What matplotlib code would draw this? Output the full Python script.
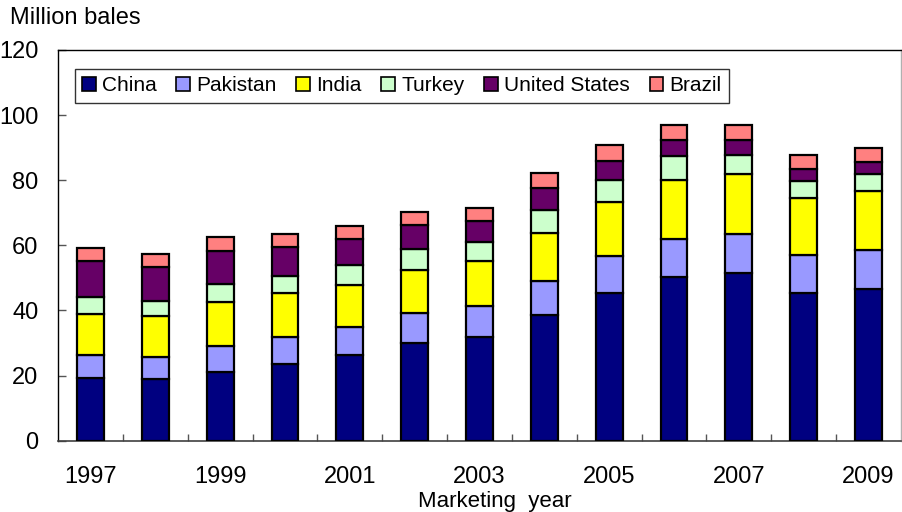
import matplotlib
matplotlib.use("Agg")
import matplotlib.pyplot as plt
import numpy as np

plt.rcParams['font.family'] = ['Liberation Sans', 'DejaVu Sans']

years = [str(y) for y in range(1997, 2010)]
tick_years = ["1997", "", "1999", "", "2001", "", "2003", "", "2005", "", "2007", "", "2009"]

china = [19.4, 18.9, 21.2, 23.6, 26.4, 30.0, 32.0, 38.5, 45.4, 50.2, 51.5, 45.4, 46.6]
pakistan = [7.0, 6.9, 7.9, 8.2, 8.4, 9.2, 9.5, 10.4, 11.2, 11.9, 12.1, 11.5, 12.1]
india = [12.6, 12.5, 13.5, 13.6, 13.1, 13.3, 13.6, 14.9, 16.6, 18.1, 18.4, 17.7, 18.1]
turkey = [5.1, 4.5, 5.5, 5.1, 6.2, 6.4, 5.9, 7.0, 6.8, 7.2, 5.9, 5.3, 5.2]
united_states = [11.2, 10.4, 10.3, 8.9, 7.7, 7.3, 6.4, 6.9, 5.8, 4.9, 4.6, 3.4, 3.7]
brazil = [3.9, 4.0, 4.2, 4.1, 4.0, 4.0, 4.1, 4.4, 5.0, 4.8, 4.6, 4.4, 4.3]

series = [
    ("China", china, "#000080"),
    ("Pakistan", pakistan, "#9999FF"),
    ("India", india, "#FFFF00"),
    ("Turkey", turkey, "#CCFFCC"),
    ("United States", united_states, "#660066"),
    ("Brazil", brazil, "#FF8080"),
]

fig = plt.figure(figsize=(9.02, 5.12), dpi=100)
ax = fig.add_axes([58 / 902, 1 - 440.7 / 512, 843 / 902, 390.7 / 512])

x = np.arange(len(years))
bottom = np.zeros(len(years))
for name, vals, color in series:
    vals = np.array(vals)
    ax.bar(x, vals, width=0.415, bottom=bottom, color=color,
           edgecolor="black", linewidth=1.6, label=name, zorder=3)
    bottom += vals

ax.set_xlim(-0.5, len(years) - 0.5)
ax.set_ylim(0, 120)
ax.set_yticks(np.arange(0, 121, 20))

ax.set_xticks(x)
ax.set_xticklabels(tick_years)
ax.set_xticks(x[:-1] + 0.5, minor=True)
ax.tick_params(axis="x", which="major", length=0, pad=18, labelsize=17)
ax.tick_params(axis="x", which="minor", direction="in", length=5, width=1, color="#555555")
ax.tick_params(axis="y", direction="in", length=5.5, width=1, pad=14, labelsize=17,
               color="#555555")

for side in ("left", "top"):
    ax.spines[side].set_color("black")
    ax.spines[side].set_linewidth(1.0)
ax.spines["bottom"].set_color("#404040")
ax.spines["bottom"].set_linewidth(1.2)
ax.spines["right"].set_color("#b0b0b0")
ax.spines["right"].set_linewidth(1.0)

leg = ax.legend(loc="upper left", bbox_to_anchor=(0.020, 0.951), ncol=6,
                fontsize=15, frameon=True, fancybox=False, borderaxespad=0,
                handlelength=0.65, handleheight=0.65, handletextpad=0.3,
                columnspacing=0.95, borderpad=0.35)
leg.get_frame().set_edgecolor("black")
leg.get_frame().set_linewidth(1.0)
for h in leg.legend_handles:
    h.set_linewidth(1.2)

fig.text(10 / 902, 1 - 18 / 512, "Million bales", fontsize=17, ha="left", va="center")
fig.text(495 / 902, 1 - 501 / 512, "Marketing  year", fontsize=16, ha="center", va="center")

fig.savefig("out.png", dpi=100)
